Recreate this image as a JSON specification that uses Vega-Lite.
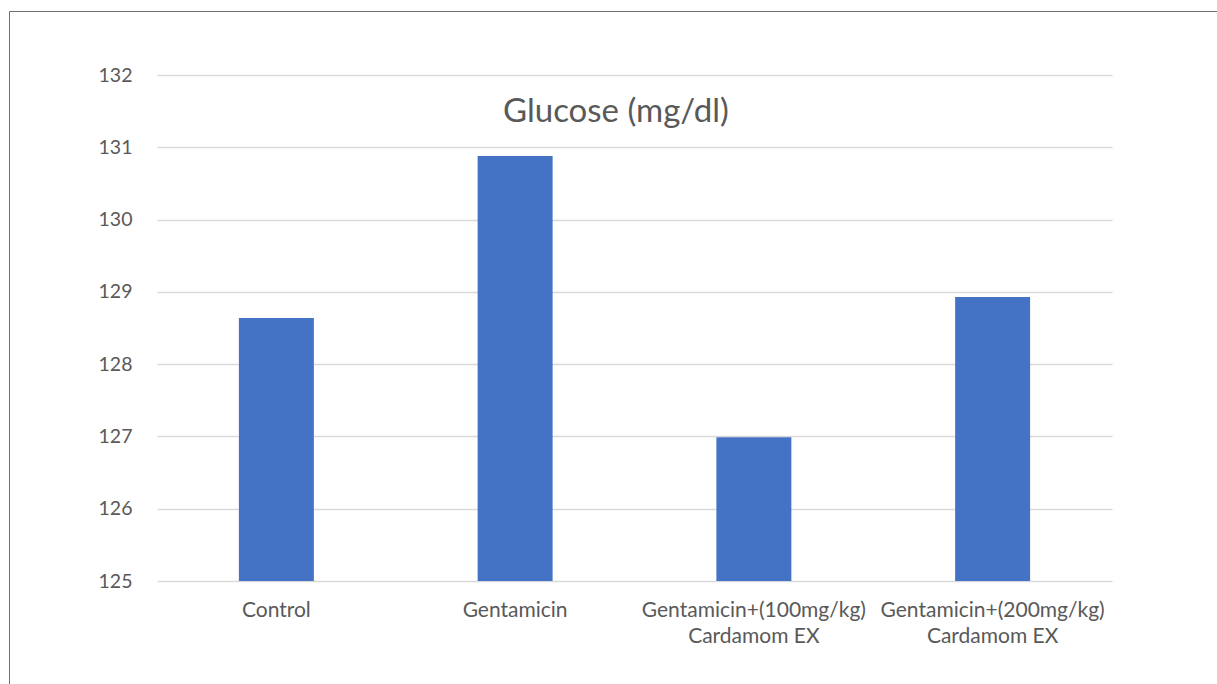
{
  "$schema": "https://vega.github.io/schema/vega-lite/v6.json",
  "width": 1210,
  "height": 673,
  "autosize": {"type": "none"},
  "padding": {"left": 9, "top": 11, "right": 0, "bottom": 0},
  "background": "white",
  "title": {
    "text": "Glucose (mg/dl)",
    "anchor": "start",
    "frame": "group",
    "font": "Lato",
    "fontSize": 33,
    "fontWeight": "normal",
    "color": "#595959",
    "baseline": "middle",
    "offset": 0,
    "dy": 134,
    "dx": 494
  },
  "data": {
    "values": [
      {"group": "Control", "glucose": 128.64},
      {"group": "Gentamicin", "glucose": 130.88},
      {"group": "Gentamicin+(100mg/kg)|Cardamom EX", "glucose": 126.99},
      {"group": "Gentamicin+(200mg/kg)|Cardamom EX", "glucose": 128.93}
    ]
  },
  "mark": {"type": "bar", "color": "#4472C4"},
  "encoding": {
    "x": {
      "field": "group",
      "type": "nominal",
      "sort": null,
      "scale": {"range": [148, 1103], "paddingInner": 0.686, "paddingOuter": 0.343},
      "axis": {
        "orient": "bottom",
        "offset": -103,
        "title": null,
        "domain": false,
        "ticks": false,
        "grid": false,
        "labelAngle": 0,
        "labelExpr": "split(datum.label, '|')",
        "labelLineHeight": 26,
        "labelBaseline": "top",
        "labelPadding": 18,
        "labelLimit": 0,
        "labelFont": "Lato",
        "labelFontSize": 21,
        "labelColor": "#595959"
      }
    },
    "y": {
      "field": "glucose",
      "type": "quantitative",
      "scale": {"domain": [125, 132], "range": [570, 64], "zero": false, "nice": false},
      "axis": {
        "orient": "left",
        "offset": -148,
        "title": null,
        "domain": false,
        "ticks": false,
        "grid": true,
        "gridColor": "#D9D9D9",
        "gridWidth": 1.5,
        "values": [125, 126, 127, 128, 129, 130, 131, 132],
        "labelPadding": 25,
        "labelFont": "Lato",
        "labelFontSize": 19.5,
        "labelColor": "#595959"
      }
    },
    "y2": {"datum": 125}
  },
  "config": {"view": {"stroke": "#6f6f6f", "strokeWidth": 1}}
}
